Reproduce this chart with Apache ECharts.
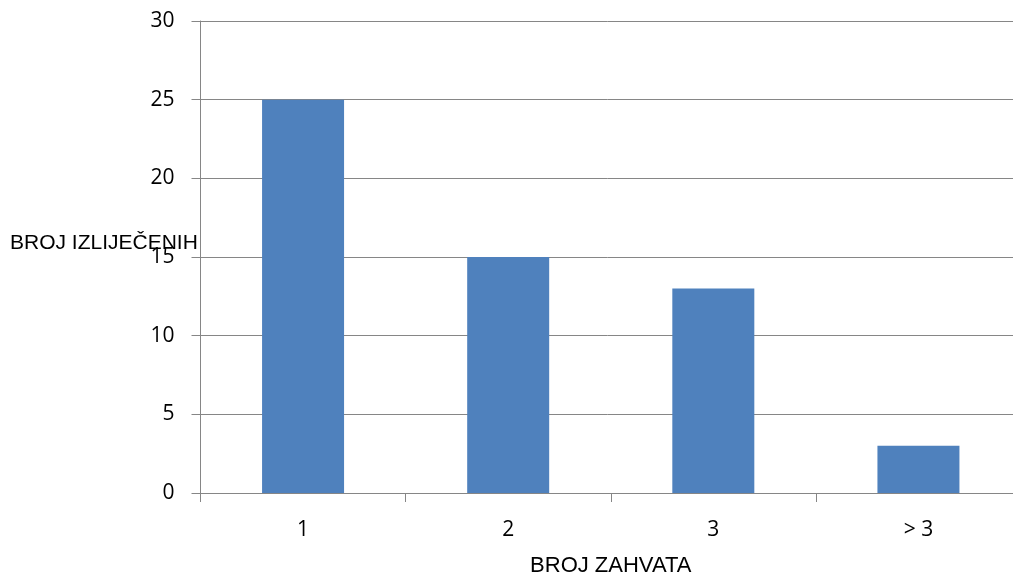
<!DOCTYPE html>
<html>
<head>
<meta charset="utf-8">
<script src="https://cdn.jsdelivr.net/npm/echarts@6/dist/echarts.min.js"></script>
<style>html,body{margin:0;padding:0;background:#fff}#c{width:1013px;height:575px}</style>
</head>
<body>
<div id="c"></div>
<script>
const categories = ['1', '2', '3', '> 3'];
const values = [25, 15, 13, 3];
const xAxisTitle = 'BROJ ZAHVATA';
const yAxisTitle = 'BROJ IZLIJEČENIH';

const chart = echarts.init(document.getElementById('c'), null, {renderer: 'canvas'});
const axisColor = '#868686';
chart.setOption({
  animation: false,
  backgroundColor: '#ffffff',
  grid: {left: 200.5, top: 21, width: 820.5, height: 472, containLabel: false, outerBoundsMode: 'none'},
  xAxis: {
    type: 'category',
    data: categories,
    axisLine: {lineStyle: {color: axisColor, width: 1}},
    axisTick: {show: true, length: 9, lineStyle: {color: axisColor}},
    axisLabel: {fontFamily: 'Open Sans', fontSize: 21, color: '#000', margin: 27},
    name: xAxisTitle,
    nameLocation: 'middle',
    nameGap: 62,
    nameTextStyle: {fontFamily: 'Liberation Sans', fontSize: 22, color: '#000'}
  },
  yAxis: {
    type: 'value',
    min: 0, max: 30, interval: 5,
    axisLine: {show: true, lineStyle: {color: axisColor, width: 1}},
    axisTick: {show: true, length: 9, lineStyle: {color: axisColor}},
    axisLabel: {fontFamily: 'Open Sans', fontSize: 21, color: '#000', margin: 26},
    splitLine: {show: true, lineStyle: {color: axisColor, width: 1}}
  },
  graphic: [{
    type: 'text', left: 10, top: 233,
    style: {text: yAxisTitle, font: '21px "Liberation Sans"', fill: '#000'}
  }],
  series: [{
    type: 'bar',
    data: values,
    barWidth: 82,
    itemStyle: {color: '#4F81BD'}
  }]
});
</script>
</body>
</html>
